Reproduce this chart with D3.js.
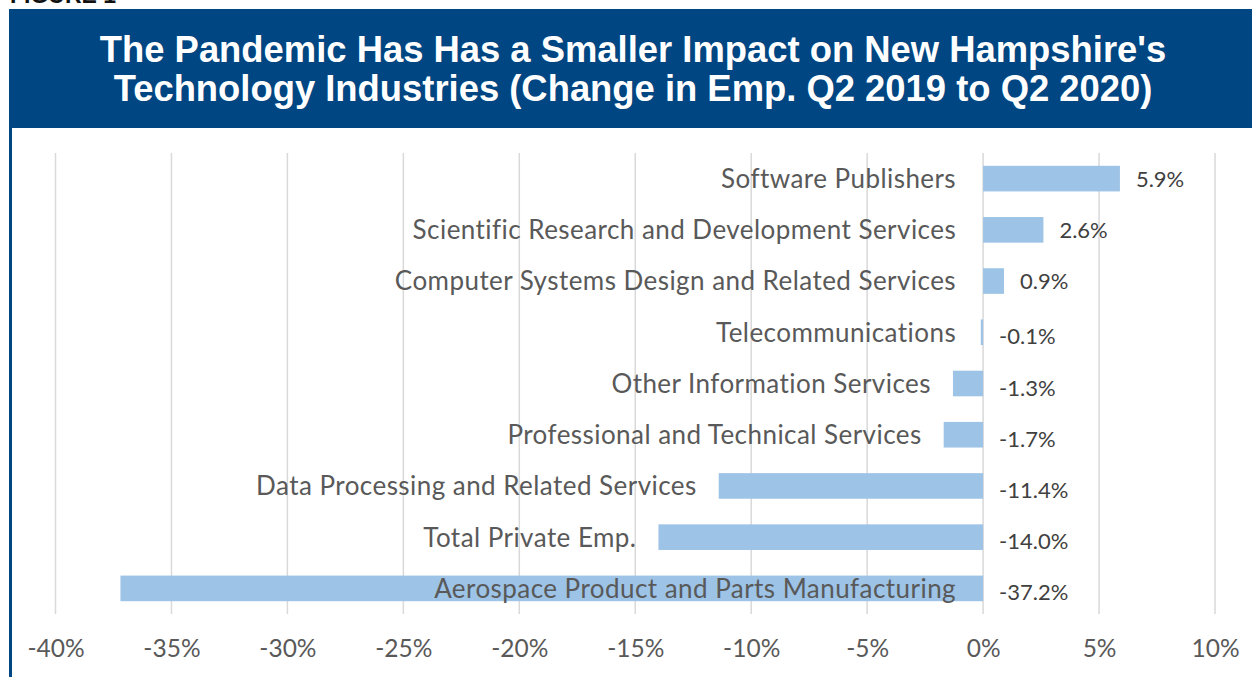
<!DOCTYPE html>
<html>
<head>
<meta charset="utf-8">
<script src="https://cdn.jsdelivr.net/npm/d3@7"></script>
<style>
  html, body { margin: 0; padding: 0; background: #ffffff; }
  svg { display: block; }
</style>
</head>
<body>
<svg id="chart" width="1252" height="677"></svg>
<script>
// Industries, top to bottom, with change in employment (%), Q2 2019 to Q2 2020
const categories = [
  "Software Publishers",
  "Scientific Research and Development Services",
  "Computer Systems Design and Related Services",
  "Telecommunications",
  "Other Information Services",
  "Professional and Technical Services",
  "Data Processing and Related Services",
  "Total Private Emp.",
  "Aerospace Product and Parts Manufacturing"
];
const values = [5.9, 2.6, 0.9, -0.1, -1.3, -1.7, -11.4, -14.0, -37.2];
const tickValues = [-40, -35, -30, -25, -20, -15, -10, -5, 0, 5, 10];
const titleLines = [
  "The Pandemic Has Has a Smaller Impact on New Hampshire's",
  "Technology Industries (Change in Emp. Q2 2019 to Q2 2020)"
];

const W = 1252, H = 677;
const navy = "#004682";
const barColor = "#9DC3E6";
const textColor = "#595959";
const gridColor = "#D9D9D9";
const labelFont = "Lato, 'Open Sans', sans-serif";

const svg = d3.select("#chart");

// Figure caption, mostly above the page edge
svg.append("text")
  .attr("x", 10).attr("y", 3)
  .attr("font-family", "'Liberation Sans', Arial, sans-serif")
  .attr("font-weight", "bold")
  .attr("font-size", 23)
  .attr("fill", "#111")
  .text("FIGURE 1");

// Title banner
svg.append("rect")
  .attr("x", 9).attr("y", 9)
  .attr("width", W - 9).attr("height", 119)
  .attr("fill", navy);

// Left frame rule
svg.append("rect")
  .attr("x", 9).attr("y", 128)
  .attr("width", 3).attr("height", H - 128)
  .attr("fill", navy);

svg.append("g")
  .selectAll("text")
  .data(titleLines)
  .join("text")
  .attr("x", 633)
  .attr("y", (d, i) => 62 + i * 39)
  .attr("text-anchor", "middle")
  .attr("font-family", "'Liberation Sans', Arial, sans-serif")
  .attr("font-weight", "bold")
  .attr("font-size", 36.4)
  .attr("fill", "#ffffff")
  .text(d => d);

// Scales
const x = d3.scaleLinear().domain([-40, 10]).range([55.5, 1215]);
const y = d3.scaleBand()
  .domain(categories)
  .range([153, 614])
  .paddingInner(0.5)
  .paddingOuter(0.25);

const data = categories.map((c, i) => ({ name: c, value: values[i] }));

// Vertical gridlines
svg.append("g")
  .selectAll("line")
  .data(tickValues)
  .join("line")
  .attr("x1", d => x(d)).attr("x2", d => x(d))
  .attr("y1", 153).attr("y2", 614)
  .attr("stroke", gridColor)
  .attr("stroke-width", 1.5);

// Bottom axis tick labels
const axis = d3.axisBottom(x)
  .tickValues(tickValues)
  .tickFormat(d => d + "%")
  .tickSize(0)
  .tickPadding(0);

const axisG = svg.append("g")
  .attr("transform", "translate(0,640)")
  .call(axis);
axisG.select(".domain").remove();
axisG.selectAll("text")
  .attr("font-family", labelFont)
  .attr("font-size", 24.5)
  .attr("fill", textColor);

// Bars
svg.append("g")
  .selectAll("rect")
  .data(data)
  .join("rect")
  .attr("x", d => x(Math.min(d.value, 0)))
  .attr("y", d => y(d.name))
  .attr("width", d => Math.abs(x(d.value) - x(0)))
  .attr("height", y.bandwidth())
  .attr("fill", barColor);

// Category labels: sit just left of the bar, or beside the zero line if there is no room
const catG = svg.append("g");
catG.selectAll("text")
  .data(data)
  .join("text")
  .attr("y", d => y(d.name) + y.bandwidth() / 2)
  .attr("dy", "0.36em")
  .attr("text-anchor", "end")
  .attr("font-family", labelFont)
  .attr("font-size", 26)
  .attr("letter-spacing", 0.45)
  .attr("fill", textColor)
  .text(d => d.name)
  .attr("x", function (d) {
    const end = Math.min(x(Math.min(d.value, 0)) - 22, x(0) - 27);
    const w = this.getComputedTextLength();
    return (end - w < 20) ? x(0) - 27 : end;
  });

// Value labels right of the zero line / bar end
svg.append("g")
  .selectAll("text")
  .data(data)
  .join("text")
  .attr("x", d => x(Math.max(d.value, 0)) + 16)
  .attr("y", d => y(d.name) + y.bandwidth() / 2)
  .attr("dy", d => d.value < 0 ? "0.55em" : "0.36em")
  .attr("font-family", labelFont)
  .attr("font-size", 22)
  .attr("fill", "#404040")
  .text(d => d.value.toFixed(1) + "%");
</script>
</body>
</html>
